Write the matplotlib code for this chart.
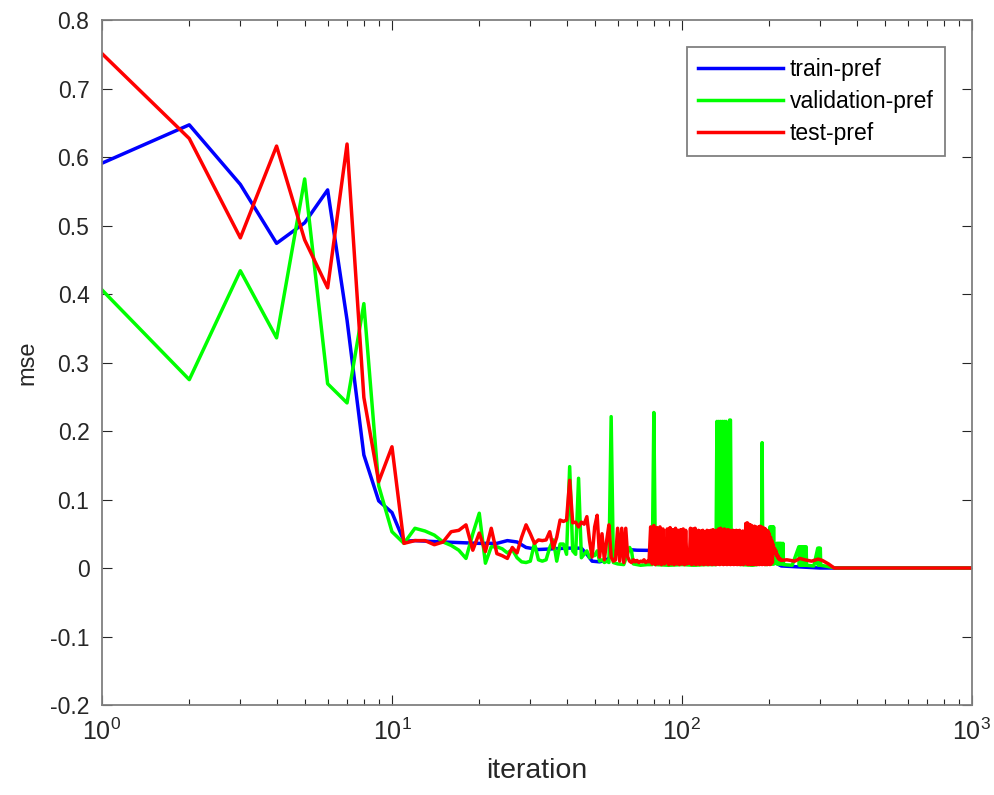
import numpy as np
import matplotlib.pyplot as plt

plt.rcParams['font.family'] = ['Liberation Sans', 'DejaVu Sans']
plt.rcParams['mathtext.default'] = 'regular'

# train-pref (blue), sparse (iteration, mse) points
train_it = [1, 2, 3, 4, 5, 6, 7, 8, 9, 10, 11, 12, 15, 20, 23, 25, 27, 29, 32, 36,
            40, 45, 47, 49, 52, 55, 58, 60, 65, 70, 100, 150, 195, 205, 220, 300, 1000]
train_mse = [0.591, 0.647, 0.560, 0.474, 0.504, 0.552, 0.362, 0.165, 0.098, 0.081,
             0.039, 0.040, 0.038, 0.036, 0.036, 0.040, 0.038, 0.030, 0.027, 0.028,
             0.029, 0.029, 0.020, 0.010, 0.009, 0.012, 0.020, 0.029, 0.027, 0.026,
             0.025, 0.025, 0.025, 0.010, 0.003, 0.0, 0.0]

# validation-pref (green)
val_it = list(range(1, 59)) + [
    60, 63, 66, 67, 68, 72, 76, 79, 80, 81, 90, 100, 110, 120, 131,
    132, 133, 134, 135, 136, 137, 138, 139, 140, 141, 142, 143, 145, 146, 147, 148,
    160, 175, 188, 189, 190, 195, 200, 201, 202, 203, 204, 205, 206, 207, 208,
    212, 213, 214, 215, 216, 217, 218, 219, 220, 221, 223, 224, 240,
    253, 254, 256, 257, 259, 260, 262, 263, 265, 266, 268, 269, 285,
    294, 295, 297, 298, 300, 301, 320, 340, 1000]
val_mse = [
    0.406, 0.275, 0.434, 0.336, 0.568, 0.269, 0.241, 0.386, 0.120, 0.053,
    0.036, 0.058, 0.054, 0.048, 0.038, 0.033, 0.026, 0.014, 0.050, 0.080,
    0.007, 0.031, 0.031, 0.028, 0.022, 0.027, 0.015, 0.009, 0.008, 0.010,
    0.036, 0.012, 0.010, 0.012, 0.030, 0.041, 0.010, 0.035, 0.035, 0.020,
    0.148, 0.025, 0.020, 0.131, 0.015, 0.020, 0.025, 0.015, 0.022, 0.018,
    0.025, 0.010, 0.012, 0.008, 0.010, 0.008, 0.221, 0.008,
    0.006, 0.005, 0.030, 0.025, 0.006, 0.004, 0.005, 0.005, 0.227, 0.005,
    0.004, 0.005, 0.004, 0.005, 0.005,
    0.214, 0.006, 0.214, 0.006, 0.214, 0.006, 0.214, 0.006, 0.214, 0.006,
    0.214, 0.006, 0.006, 0.216, 0.216, 0.006,
    0.005, 0.004, 0.006, 0.183, 0.006, 0.005, 0.006, 0.060, 0.006, 0.060,
    0.006, 0.060, 0.006, 0.060, 0.006,
    0.036, 0.006, 0.036, 0.006, 0.036, 0.006, 0.036, 0.006, 0.036, 0.006,
    0.036, 0.005, 0.004,
    0.031, 0.004, 0.031, 0.004, 0.031, 0.004, 0.031, 0.004, 0.031, 0.004,
    0.031, 0.004, 0.003,
    0.029, 0.004, 0.029, 0.004, 0.029, 0.004, 0.002, 0.0, 0.0]

# test-pref (red): every iteration 1..220, then a sparse tail
test_head = [
    0.751, 0.627, 0.482, 0.616, 0.479, 0.409, 0.619, 0.249, 0.126, 0.177,
    0.036, 0.040, 0.040, 0.034, 0.038, 0.053, 0.055, 0.063, 0.026, 0.051,
    0.024, 0.058, 0.021, 0.018, 0.014, 0.030, 0.022, 0.045, 0.063, 0.050,
    0.036, 0.041, 0.040, 0.041, 0.053, 0.029, 0.045, 0.070, 0.068, 0.070,
    0.128, 0.066, 0.067, 0.060, 0.067, 0.064, 0.075, 0.040, 0.016, 0.060,
    0.077, 0.016, 0.050, 0.012, 0.040, 0.063, 0.016, 0.010, 0.012, 0.058,
    0.010, 0.058, 0.008, 0.058, 0.016,
    0.010, 0.008, 0.012, 0.009, 0.011, 0.008, 0.010, 0.009, 0.012, 0.008,
    0.010, 0.009,
    0.060, 0.006, 0.062, 0.005, 0.059, 0.006, 0.060, 0.005, 0.057, 0.006,
    0.008,
    0.057, 0.005, 0.059, 0.006, 0.056, 0.005, 0.058, 0.006, 0.055, 0.005,
    0.056, 0.006, 0.057, 0.005, 0.055, 0.006,
    0.008, 0.007,
    0.058, 0.005, 0.057, 0.006, 0.058, 0.005,
    0.008,
    0.055, 0.005, 0.054, 0.006, 0.055, 0.005, 0.053, 0.006, 0.055, 0.005,
    0.054, 0.006, 0.055, 0.005, 0.056, 0.006, 0.054, 0.005, 0.055, 0.006,
    0.057, 0.005, 0.058, 0.006, 0.056, 0.005, 0.057, 0.006, 0.055, 0.005,
    0.056, 0.006, 0.055, 0.005, 0.054, 0.006, 0.055, 0.005, 0.054, 0.006,
    0.055, 0.005, 0.054, 0.006, 0.055, 0.005, 0.053, 0.006, 0.054, 0.005,
    0.008, 0.007,
    0.065, 0.006, 0.066, 0.005, 0.064, 0.006, 0.063, 0.005, 0.062, 0.006,
    0.060, 0.005, 0.061, 0.006, 0.060, 0.005, 0.059, 0.006, 0.060, 0.005,
    0.061, 0.006, 0.060, 0.005, 0.059, 0.006, 0.058, 0.005, 0.057, 0.006,
    0.055, 0.005, 0.054, 0.006, 0.050, 0.005, 0.045, 0.006, 0.040, 0.008,
    0.035,
    0.030, 0.026, 0.028, 0.022, 0.025, 0.018, 0.020, 0.015, 0.017, 0.013,
    0.014, 0.012, 0.013, 0.011]
test_tail_it = [230, 245, 255, 265, 280, 295, 305, 320, 335, 1000]
test_tail = [0.012, 0.010, 0.014, 0.012, 0.010, 0.013, 0.011, 0.006, 0.0, 0.0]

test_it = list(range(1, len(test_head) + 1)) + test_tail_it
test_mse = test_head + test_tail

fig = plt.figure(figsize=(9.94, 7.95), dpi=100)
ax = fig.add_axes([0.1026, 0.1132, 0.8752, 0.8616])

lw = 2.5
ax.plot(train_it, train_mse, color=(0, 0, 1), lw=lw, label='train-pref')
ax.plot(val_it, val_mse, color=(0, 1, 0), lw=lw, label='validation-pref')
ax.plot(test_it, test_mse, color=(1, 0, 0), lw=lw, label='test-pref')

ax.set_xscale('log')
ax.set_xlim(1, 1000)
ax.set_ylim(-0.2, 0.8)
ax.set_yticks(np.arange(-0.2, 0.81, 0.1))
ax.set_yticklabels(['-0.2', '-0.1', '0', '0.1', '0.2', '0.3', '0.4', '0.5', '0.6', '0.7', '0.8'])

gray = '#808080'
for s in ax.spines.values():
    s.set_color(gray)
    s.set_linewidth(1.3)
ax.tick_params(which='both', direction='in', top=True, right=True, colors='#262626',
               labelcolor='#262626')
ax.tick_params(axis='y', labelsize=16.5, pad=9)
ax.tick_params(axis='x', labelsize=18, pad=10)
ax.tick_params(which='major', length=7, width=0.8)
ax.tick_params(which='minor', length=4, width=0.8)

ax.set_xlabel('iteration', fontsize=20.5, color='#262626', labelpad=9)
ax.set_ylabel('mse', fontsize=17, color='#262626', labelpad=8)

leg = ax.legend(loc='upper right', bbox_to_anchor=(0.969, 0.961), borderaxespad=0,
                fontsize=16.5, handlelength=3.7, handletextpad=0.3, labelspacing=0.38,
                fancybox=False, edgecolor=gray, framealpha=1, borderpad=0.5)
leg.get_frame().set_linewidth(1.3)

fig.savefig('out.png', dpi=100)
